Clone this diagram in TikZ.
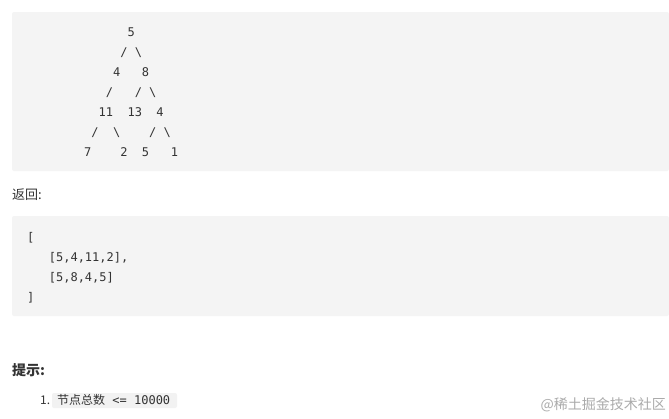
\documentclass[tikz,border=0pt]{standalone}
\usepackage{fontspec}
\newfontfamily\cjk{Noto Sans CJK SC}
\newfontfamily\mono{DejaVu Sans Mono}
\definecolor{codebg}{HTML}{F4F4F4}
\definecolor{inlbg}{HTML}{F2F2F2}
\definecolor{ink}{HTML}{333333}
\definecolor{mark}{HTML}{ABABAB}
\begin{document}
\begin{tikzpicture}
  [x=1pt,y=-1pt,
  block/.style={fill=codebg,draw=none,rounded corners=2pt},
  inl/.style={fill=inlbg,draw=none,rounded corners=2pt},
  ln/.style={anchor=base west,inner sep=0pt,text=ink,font=\mono\fontsize{12}{12}\selectfont},
  txt/.style={anchor=west,inner sep=0pt,text=ink,font=\cjk\fontsize{13}{13}\selectfont},
  head/.style={anchor=west,inner sep=0pt,text=ink,font=\cjk\bfseries\fontsize{14}{14}\selectfont},
  wm/.style={anchor=east,inner sep=0pt,text=mark,font=\cjk\fontsize{14}{14}\selectfont}]

  \useasboundingbox[fill=white] (0,0) rectangle (669,418);

  \draw[block] (12,12) rectangle (669,171);
  \node[ln] (t1) at (84,36.6) {~~~~~~5};
  \node[ln] (t2) at (84,56.5) {~~~~~/~\textbackslash};
  \node[ln] (t3) at (84,76.4) {~~~~4~~~8};
  \node[ln] (t4) at (84,96.3) {~~~/~~~/~\textbackslash};
  \node[ln] (t5) at (84,116.2) {~~11~~13~~4};
  \node[ln] (t6) at (84,136.1) {~/~~\textbackslash~~~~/~\textbackslash};
  \node[ln] (t7) at (84,156) {7~~~~2~~5~~~1};

  \node[txt] (ret) at (12,195) {返回:};

  \draw[block] (12,216) rectangle (669,316);
  \node[ln] (r1) at (27,241.7) {[};
  \node[ln] (r2) at (27,261.7) {~~~[5,4,11,2],};
  \node[ln] (r3) at (27,281.7) {~~~[5,8,4,5]};
  \node[ln] (r4) at (27,301.7) {]};

  \node[head] (tip) at (12,370) {提示:};

  \node[txt,font=\cjk\fontsize{12}{12}\selectfont] (num) at (40,400) {1.};
  \draw[inl] (52,393) rectangle (177,408);
  \node[ln] (cnt) at (57,404.5) {{\cjk 节点总数}~<=~10000};

  \node[wm] (mark) at (666,405) {@稀土掘金技术社区};

\end{tikzpicture}
\end{document}
